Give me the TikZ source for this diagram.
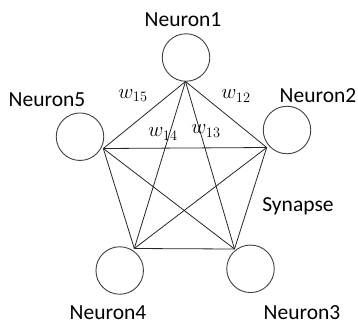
\documentclass[tikz,border=0pt]{standalone}
\usepackage{fontspec}
\setmainfont{Carlito}
\begin{document}
\begin{tikzpicture}[x=1pt,y=-1pt,
  neuron/.style={draw=black!75, line width=0.9pt, circle, minimum size=47.5pt, inner sep=0pt},
  syn/.style={draw=black!85, line width=0.8pt},
  lbl/.style={font=\fontsize{21.5}{25}\selectfont, inner sep=0pt},
  wlbl/.style={font=\fontsize{21.5}{25}\selectfont, inner sep=0pt}]
\useasboundingbox (0,0) rectangle (358,325);
\node[neuron] (n1) at (186,57.5) {};
\node[neuron] (n2) at (287,130) {};
\node[neuron] (n3) at (250.5,268.8) {};
\node[neuron] (n4) at (119.7,270.5) {};
\node[neuron] (n5) at (80,136.7) {};
\coordinate (a1) at (185.5,81.5);
\coordinate (a2) at (266.7,147.5);
\coordinate (a3) at (234.5,249);
\coordinate (a4) at (134.3,248.5);
\coordinate (a5) at (103.3,148.5);
\draw[syn] (a1) -- (a2);
\draw[syn] (a1) -- (a3);
\draw[syn] (a1) -- (a4);
\draw[syn] (a1) -- (a5);
\draw[syn] (a2) -- (a3);
\draw[syn] (a2) -- (a4);
\draw[syn] (a2) -- (a5);
\draw[syn] (a3) -- (a4);
\draw[syn] (a3) -- (a5);
\draw[syn] (a4) -- (a5);
\node[lbl] (l1) at (183,20) {Neuron1};
\node[lbl] (l2) at (318,96) {Neuron2};
\node[lbl] (l3) at (302,312.5) {Neuron3};
\node[lbl] (l4) at (108,313) {Neuron4};
\node[lbl] (l5) at (47,100) {Neuron5};
\node[lbl] (ls) at (298,206) {Synapse};
\node[wlbl] (w15) at (133,95.5) {$w_{15}$};
\node[wlbl] (w12) at (236,96) {$w_{12}$};
\node[wlbl] (w14) at (163,134) {$w_{14}$};
\node[wlbl] (w13) at (206,131) {$w_{13}$};
\end{tikzpicture}
\end{document}
